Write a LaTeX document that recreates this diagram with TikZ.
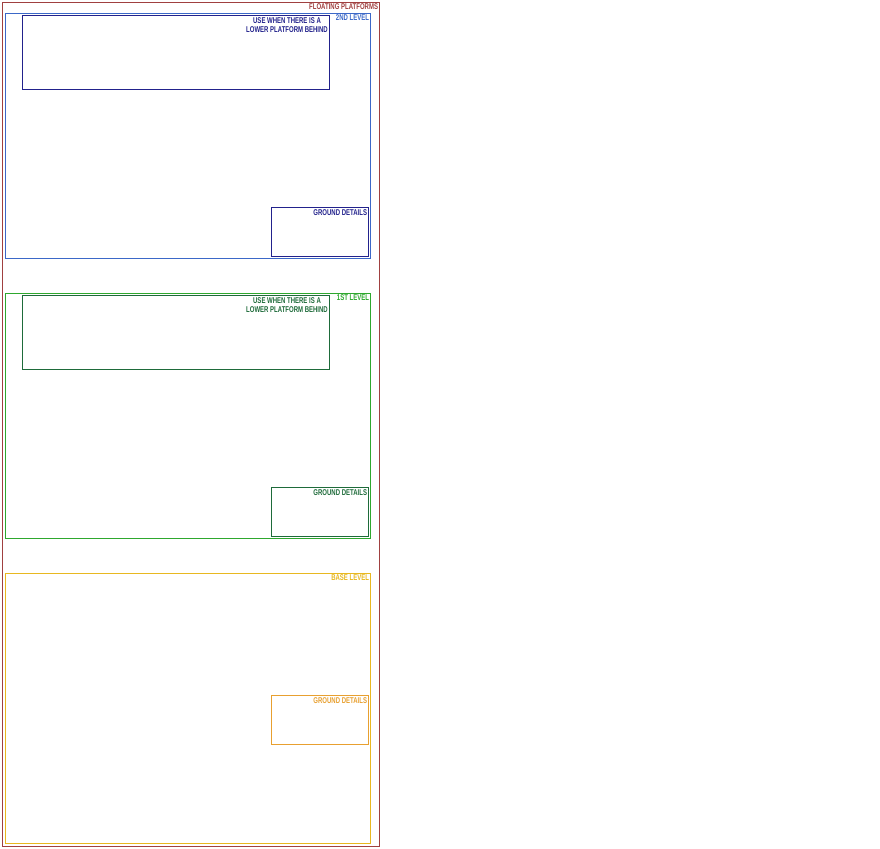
\documentclass[tikz,border=0pt]{standalone}
\usepackage{fontspec}
\usepackage{graphicx}
\setmainfont{Liberation Sans}
\definecolor{cred}{HTML}{A04040}
\definecolor{cblue}{HTML}{3B68C8}
\definecolor{cnavy}{HTML}{22228C}
\definecolor{cgreen}{HTML}{2EA82E}
\definecolor{cdgreen}{HTML}{1E6B3A}
\definecolor{cyellow}{HTML}{E8B820}
\definecolor{corange}{HTML}{E8A030}
\newcommand{\pixtxt}[1]{\scalebox{1}[1.4]{#1}}
\tikzset{
  box/.style={draw=#1, line width=1pt, inner sep=0pt, outer sep=0pt, anchor=north west, fill=none},
  lbl/.style={text=#1, inner sep=0pt, outer sep=0pt, font=\bfseries\fontsize{6}{7}\selectfont},
}
\begin{document}
\begin{tikzpicture}[x=1pt,y=-1pt]
\useasboundingbox[fill=white] (0,0) rectangle (880,848);
% outer
\node[box=cred, minimum width=377pt, minimum height=844pt] (outer) at (2.5,2.5) {};
\node[lbl=cred, anchor=base east] (outerlbl) at (378,9.5) {\pixtxt{FLOATING PLATFORMS}};
% 2nd level
\node[box=cblue, minimum width=365pt, minimum height=245pt] (lvl2) at (5.5,13.5) {};
\node[lbl=cblue, anchor=base east] (lvl2lbl) at (369,20.5) {\pixtxt{2ND LEVEL}};
\node[box=cnavy, minimum width=307pt, minimum height=74pt] (low2) at (22.5,15.5) {};
\node[lbl=cnavy, anchor=base] (low2a) at (287,23.5) {\pixtxt{USE WHEN THERE IS A}};
\node[lbl=cnavy, anchor=base] (low2b) at (287,32.5) {\pixtxt{LOWER PLATFORM BEHIND}};
\node[box=cnavy, minimum width=97pt, minimum height=49pt] (gd2) at (271.5,207.5) {};
\node[lbl=cnavy, anchor=base east] (gd2lbl) at (367,215.5) {\pixtxt{GROUND DETAILS}};
% 1st level
\node[box=cgreen, minimum width=365pt, minimum height=245pt] (lvl1) at (5.5,293.5) {};
\node[lbl=cgreen, anchor=base east] (lvl1lbl) at (369,300.5) {\pixtxt{1ST LEVEL}};
\node[box=cdgreen, minimum width=307pt, minimum height=74pt] (low1) at (22.5,295.5) {};
\node[lbl=cdgreen, anchor=base] (low1a) at (287,303.5) {\pixtxt{USE WHEN THERE IS A}};
\node[lbl=cdgreen, anchor=base] (low1b) at (287,312.5) {\pixtxt{LOWER PLATFORM BEHIND}};
\node[box=cdgreen, minimum width=97pt, minimum height=49pt] (gd1) at (271.5,487.5) {};
\node[lbl=cdgreen, anchor=base east] (gd1lbl) at (367,495.5) {\pixtxt{GROUND DETAILS}};
% base level
\node[box=cyellow, minimum width=365pt, minimum height=270pt] (lvl0) at (5.5,573.5) {};
\node[lbl=cyellow, anchor=base east] (lvl0lbl) at (369,580.5) {\pixtxt{BASE LEVEL}};
\node[box=corange, minimum width=97pt, minimum height=49pt] (gd0) at (271.5,695.5) {};
\node[lbl=corange, anchor=base east] (gd0lbl) at (367,703.5) {\pixtxt{GROUND DETAILS}};
\end{tikzpicture}
\end{document}
